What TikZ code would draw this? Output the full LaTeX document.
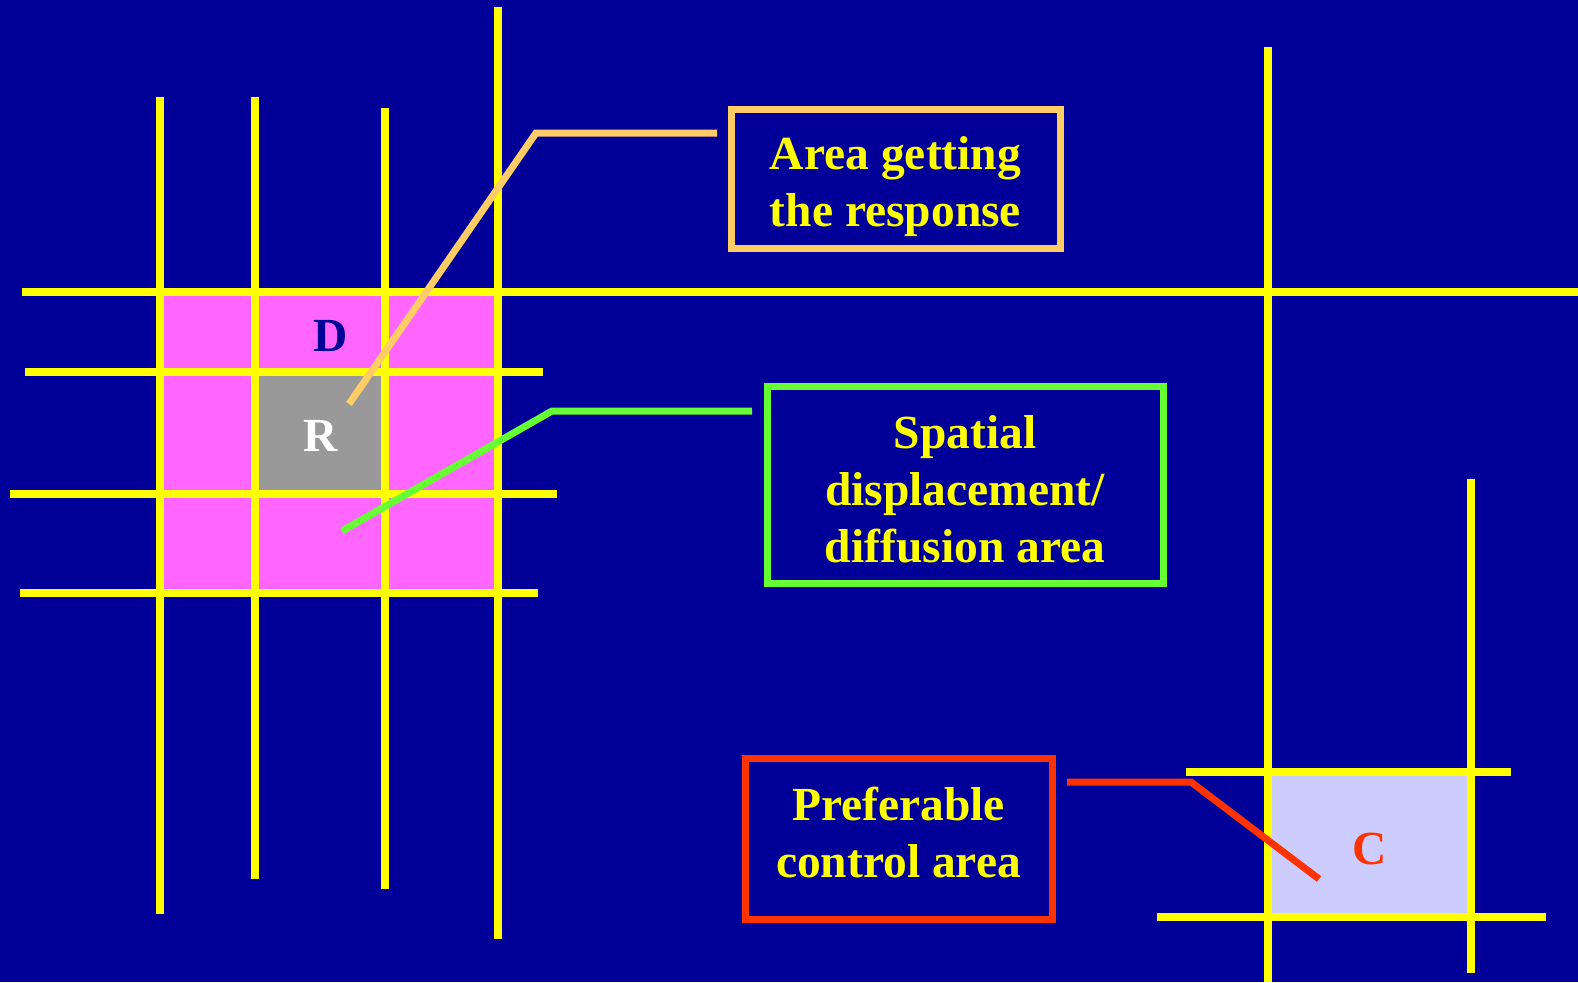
\documentclass[tikz,border=0pt]{standalone}
\usepackage{fontspec}
\setmainfont{Liberation Serif}
\definecolor{bgblue}{HTML}{000099}
\definecolor{roadyellow}{HTML}{FFFF00}
\definecolor{plotpink}{HTML}{FF66FF}
\definecolor{plotgrey}{HTML}{999999}
\definecolor{plotlav}{HTML}{CCCCFF}
\definecolor{tagorange}{HTML}{FFCC66}
\definecolor{taggreen}{HTML}{66FF33}
\definecolor{tagred}{HTML}{FF3300}
\tikzset{
  road/.style={draw=roadyellow, line width=8pt},
  leader/.style={line width=7pt, line join=miter},
  tagframe/.style={draw, line width=7pt, inner sep=0pt},
  tagtext/.style={text=roadyellow, align=center, inner sep=0pt,
    font=\bfseries\fontsize{47.5}{57}\selectfont},
  cellmark/.style={font=\bfseries\fontsize{47.5}{57}\selectfont}
}
\begin{document}
\begin{tikzpicture}[x=1pt,y=-1pt]
  % canvas
  \fill[bgblue] (0,0) rectangle (1578,982);
  \useasboundingbox (0,0) rectangle (1578,982);

  % plots
  \fill[plotpink] (160,292) rectangle (498,593);
  \fill[plotgrey] (255,372) rectangle (385,494);
  \fill[plotlav] (1268,772) rectangle (1471,917);

  % left grid
  \draw[road] (160,97) -- (160,914);
  \draw[road] (255,97) -- (255,879);
  \draw[road] (385,108) -- (385,889);
  \draw[road] (498,7) -- (498,939);
  \draw[road] (22,292) -- (1578,292);
  \draw[road] (25,372) -- (543,372);
  \draw[road] (10,494) -- (557,494);
  \draw[road] (20,593) -- (538,593);

  % right grid
  \draw[road] (1268,47) -- (1268,982);
  \draw[road] (1471,479) -- (1471,973);
  \draw[road] (1186,772) -- (1511,772);
  \draw[road] (1157,917) -- (1546,917);

  % cell letters
  \node[cellmark, text=bgblue] (D) at (331,336) {D};
  \node[cellmark, text=white] (R) at (321,436) {R};
  \node[cellmark, text=tagred] (C) at (1370,849) {C};

  % caption frames
  \node[tagframe, draw=tagorange, minimum width=329pt, minimum height=139pt]
    (area) at (895.5,178.5) {};
  \node[tagframe, draw=taggreen, minimum width=396pt, minimum height=197pt]
    (spatial) at (965,484.5) {};
  \node[tagframe, draw=tagred, minimum width=307pt, minimum height=161pt]
    (control) at (898.5,838.5) {};

  % caption texts
  \node[tagtext] (areaText) at ([yshift=-8pt]area.center)
    {Area getting\\the response};
  \node[tagtext] (spatialText) at ([yshift=-5pt]spatial.center)
    {Spatial\\displacement/\\diffusion area};
  \node[tagtext] (controlText) at ([yshift=6pt]control.center)
    {Preferable\\control area};

  % leader lines
  \coordinate (areaTip) at (349,404);
  \coordinate (areaKnee) at (536,133);
  \coordinate (areaEnd) at (717,133);
  \coordinate (spatialTip) at (342,531);
  \coordinate (spatialKnee) at (552,411);
  \coordinate (spatialEnd) at (752,411);
  \coordinate (controlEnd) at (1067,782);
  \coordinate (controlKnee) at (1191,782);
  \coordinate (controlTip) at (1319,879);

  \draw[leader, tagorange] (areaTip) -- (areaKnee) -- (areaEnd);
  \draw[leader, taggreen] (spatialTip) -- (spatialKnee) -- (spatialEnd);
  \draw[leader, tagred] (controlEnd) -- (controlKnee) -- (controlTip);
\end{tikzpicture}
\end{document}
